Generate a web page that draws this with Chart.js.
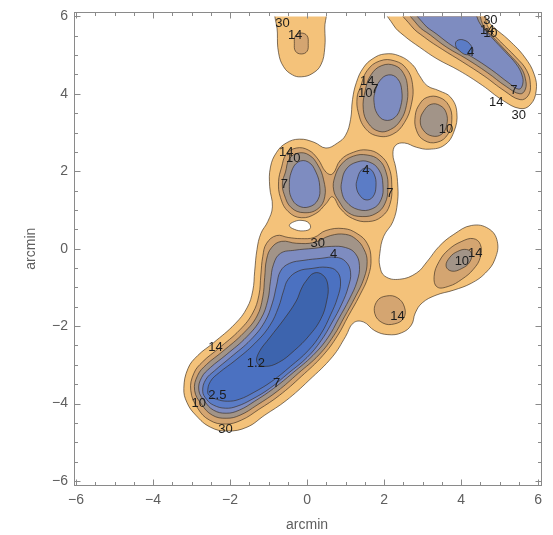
<!DOCTYPE html>
<html>
<head>
<meta charset="utf-8">
<title>contour arcmin</title>
<script src="https://cdn.jsdelivr.net/npm/chart.js@4.4.1/dist/chart.umd.min.js"></script>
<style>
  html, body { margin: 0; padding: 0; background: #fff; }
</style>
</head>
<body>
<canvas id="contourChart" width="553" height="535"></canvas>
<script>
const getEl = (id) => document.getElementById(id);

// axis ticks (arcmin)
const tickValues = [-6, -4, -2, 0, 2, 4, 6];
const minorStep = 0.5;
const levels = [30, 14, 10, 7, 4, 2.5, 1.2];

// contour outlines, [x, y] in arcmin
// small blob at the top
const cap30 = [[-0.76,6.3],[-0.77,5.57],[-0.74,5.06],[-0.61,4.70],[-0.38,4.49],[-0.15,4.44],[0.13,4.52],[0.36,4.75],[0.46,5.19],[0.46,5.70],[0.44,6.3]];
const cap14 = [[-0.15,5.57],[0.0,5.5],[0.03,5.3],[0.0,5.1],[-0.15,5.03],[-0.3,5.1],[-0.33,5.3],[-0.3,5.5]];

// ridge at the top right
const ridge30 = [[2.02,6.3],[2.24,5.78],[2.52,5.50],[2.93,5.20],[3.38,4.90],[3.95,4.60],[4.55,4.22],[5.07,3.84],[5.53,3.62],[5.80,3.72],[5.95,4.08],[5.90,4.50],[5.65,4.95],[5.24,5.39],[4.85,5.72],[4.65,5.95],[4.55,6.3]];
const ridge14 = [[2.38,6.3],[2.70,5.76],[3.05,5.46],[3.51,5.15],[4.03,4.83],[4.60,4.46],[5.12,4.08],[5.53,3.85],[5.74,3.95],[5.80,4.24],[5.70,4.61],[5.42,4.95],[5.03,5.34],[4.73,5.67],[4.41,6.3]];
const ridge10 = [[2.58,6.3],[2.87,5.78],[3.20,5.52],[3.63,5.20],[4.13,4.91],[4.68,4.55],[5.17,4.19],[5.53,4.00],[5.67,4.12],[5.67,4.39],[5.55,4.68],[5.24,5.03],[4.90,5.39],[4.60,5.72],[4.30,6.3]];
const ridge7 = [[2.74,6.3],[3.03,5.81],[3.37,5.54],[3.80,5.22],[4.27,4.96],[4.79,4.62],[5.24,4.28],[5.50,4.12],[5.60,4.25],[5.58,4.49],[5.43,4.77],[5.14,5.09],[4.80,5.45],[4.50,5.80],[4.20,6.3]];
const ridge4 = [[3.89,5.37],[4.07,5.39],[4.25,5.26],[4.30,5.08],[4.14,5.01],[3.96,5.11],[3.86,5.24]];

// the big connected region (outer 30 line) and the little hole in it
const body30 = [[-3.20,-3.61],[-3.09,-3.09],[-2.84,-2.76],[-2.43,-2.43],[-1.87,-1.94],[-1.56,-1.53],[-1.41,-1.09],[-1.36,-0.58],[-1.30,-0.02],[-1.20,0.39],[-1.02,0.70],[-0.90,1.08],[-0.97,1.60],[-0.95,2.11],[-0.79,2.49],[-0.54,2.73],[-0.20,2.83],[0.18,2.75],[0.49,2.60],[0.79,2.73],[1.00,2.93],[1.13,3.34],[1.18,3.85],[1.28,4.29],[1.46,4.67],[1.71,4.91],[2.02,5.03],[2.40,4.98],[2.74,4.75],[2.92,4.47],[3.12,4.21],[3.43,4.08],[3.73,3.91],[3.89,3.52],[3.81,3.01],[3.56,2.67],[3.17,2.57],[2.84,2.62],[2.53,2.73],[2.30,2.67],[2.23,2.44],[2.30,2.11],[2.35,1.73],[2.35,1.21],[2.23,0.70],[1.99,0.32],[1.89,-0.12],[1.89,-0.45],[2.02,-0.71],[2.40,-0.79],[2.84,-0.63],[3.12,-0.33],[3.43,0.06],[3.81,0.37],[4.27,0.60],[4.71,0.52],[4.94,0.19],[4.88,-0.27],[4.63,-0.63],[4.27,-0.89],[3.81,-1.07],[3.35,-1.20],[2.99,-1.40],[2.81,-1.66],[2.71,-1.97],[2.46,-2.17],[2.10,-2.22],[1.76,-2.12],[1.46,-1.89],[1.20,-1.92],[1.00,-2.27],[0.66,-2.79],[0.05,-3.40],[-0.54,-3.92],[-1.10,-4.30],[-1.56,-4.61],[-2.07,-4.71],[-2.51,-4.61],[-2.89,-4.30],[-3.12,-3.97]];
const hole30 = [[-0.46,0.60],[-0.33,0.70],[-0.13,0.73],[0.05,0.66],[0.08,0.52],[-0.10,0.46],[-0.33,0.50]];

// knot near (2, 4) and the lobe near (3.3, 3.3)
const knot14 = [[1.38,4.16],[1.56,4.60],[1.89,4.85],[2.28,4.85],[2.58,4.65],[2.74,4.24],[2.71,3.73],[2.53,3.26],[2.23,2.96],[1.84,2.91],[1.51,3.11],[1.33,3.52],[1.30,3.91]];
const knot10 = [[1.51,4.08],[1.66,4.49],[1.94,4.73],[2.28,4.73],[2.51,4.52],[2.61,4.16],[2.58,3.70],[2.43,3.32],[2.17,3.08],[1.87,3.03],[1.59,3.24],[1.46,3.60]];
const knot7 = [[1.76,4.03],[1.89,4.34],[2.12,4.49],[2.35,4.39],[2.46,4.08],[2.43,3.67],[2.28,3.39],[2.02,3.32],[1.82,3.49],[1.74,3.78]];
const lobe14 = [[2.92,3.73],[3.12,3.91],[3.43,3.91],[3.68,3.70],[3.76,3.34],[3.66,2.96],[3.38,2.75],[3.04,2.80],[2.84,3.06],[2.81,3.44]];
const lobe10 = [[3.04,3.57],[3.22,3.73],[3.45,3.70],[3.61,3.52],[3.63,3.21],[3.50,2.96],[3.25,2.91],[3.02,3.06],[2.94,3.32]];

// the figure-eight pair around y = 1.8
const pair14 = [[-0.66,2.11],[-0.54,2.44],[-0.28,2.60],[0.03,2.55],[0.28,2.32],[0.49,1.98],[0.66,1.93],[0.87,2.29],[1.20,2.49],[1.56,2.55],[1.89,2.42],[2.12,2.11],[2.20,1.65],[2.15,1.14],[1.94,0.83],[1.59,0.70],[1.18,0.78],[0.87,1.03],[0.66,1.34],[0.49,1.16],[0.23,0.91],[-0.15,0.80],[-0.49,0.96],[-0.69,1.32],[-0.74,1.73]];
const pairL10 = [[-0.56,1.98],[-0.46,2.32],[-0.23,2.47],[0.05,2.42],[0.28,2.16],[0.43,1.78],[0.46,1.34],[0.28,1.03],[-0.08,0.93],[-0.41,1.06],[-0.59,1.39],[-0.64,1.70]];
const pairR10 = [[0.72,1.85],[0.90,2.19],[1.20,2.39],[1.56,2.42],[1.87,2.29],[2.05,1.98],[2.10,1.57],[2.02,1.16],[1.79,0.91],[1.43,0.83],[1.07,0.93],[0.82,1.24],[0.69,1.52]];
const pairL7 = [[-0.46,1.60],[-0.41,1.98],[-0.23,2.24],[0.03,2.24],[0.23,1.98],[0.33,1.60],[0.28,1.26],[0.05,1.08],[-0.23,1.11],[-0.41,1.32]];
const pairR7 = [[0.90,1.73],[1.02,2.06],[1.30,2.24],[1.61,2.24],[1.87,2.03],[1.97,1.65],[1.92,1.26],[1.69,1.03],[1.33,1.01],[1.02,1.21],[0.90,1.47]];
const pairR4 = [[1.30,1.78],[1.41,2.03],[1.59,2.08],[1.74,1.93],[1.79,1.62],[1.71,1.34],[1.53,1.26],[1.36,1.39],[1.28,1.60]];

// long main valley
const body14 = [[-3.02,-3.66],[-2.94,-3.22],[-2.71,-2.92],[-2.30,-2.58],[-1.74,-2.09],[-1.41,-1.66],[-1.25,-1.20],[-1.20,-0.68],[-1.15,-0.20],[-1.05,0.14],[-0.79,0.34],[-0.49,0.29],[-0.15,0.26],[0.18,0.29],[0.49,0.47],[0.95,0.52],[1.30,0.39],[1.56,0.14],[1.66,-0.25],[1.59,-0.71],[1.36,-1.22],[1.07,-1.74],[0.79,-2.25],[0.41,-2.76],[-0.15,-3.30],[-0.72,-3.79],[-1.25,-4.15],[-1.71,-4.43],[-2.12,-4.53],[-2.53,-4.43],[-2.84,-4.12]];
const body10 = [[-2.92,-3.66],[-2.84,-3.27],[-2.61,-2.99],[-2.20,-2.66],[-1.64,-2.17],[-1.30,-1.74],[-1.15,-1.25],[-1.10,-0.74],[-1.05,-0.27],[-0.92,0.03],[-0.66,0.19],[-0.28,0.14],[0.18,0.16],[0.61,0.34],[1.00,0.37],[1.28,0.24],[1.48,-0.02],[1.56,-0.33],[1.48,-0.76],[1.25,-1.25],[0.97,-1.76],[0.69,-2.25],[0.31,-2.74],[-0.23,-3.22],[-0.77,-3.68],[-1.30,-4.04],[-1.74,-4.30],[-2.10,-4.38],[-2.46,-4.30],[-2.74,-4.02]];
const body7 = [[-2.81,-3.66],[-2.74,-3.33],[-2.51,-3.07],[-2.10,-2.74],[-1.56,-2.27],[-1.20,-1.81],[-1.02,-1.33],[-0.95,-0.84],[-0.87,-0.40],[-0.69,-0.12],[-0.33,-0.04],[0.18,0.01],[0.64,0.06],[1.00,0.03],[1.25,-0.12],[1.36,-0.43],[1.30,-0.84],[1.10,-1.30],[0.82,-1.81],[0.54,-2.30],[0.15,-2.76],[-0.36,-3.20],[-0.87,-3.61],[-1.36,-3.94],[-1.76,-4.17],[-2.10,-4.25],[-2.43,-4.17],[-2.66,-3.94]];
const body4 = [[-2.71,-3.68],[-2.63,-3.38],[-2.40,-3.15],[-1.99,-2.81],[-1.46,-2.35],[-1.10,-1.89],[-0.90,-1.40],[-0.79,-0.94],[-0.69,-0.58],[-0.46,-0.38],[-0.08,-0.30],[0.36,-0.25],[0.74,-0.22],[1.00,-0.33],[1.13,-0.61],[1.07,-0.99],[0.90,-1.43],[0.64,-1.92],[0.36,-2.38],[0.00,-2.81],[-0.49,-3.22],[-0.97,-3.61],[-1.43,-3.89],[-1.82,-4.07],[-2.12,-4.12],[-2.43,-4.04],[-2.61,-3.89]];
const body2_5 = [[-2.58,-3.71],[-2.51,-3.43],[-2.28,-3.20],[-1.87,-2.89],[-1.36,-2.45],[-0.97,-1.99],[-0.74,-1.51],[-0.61,-1.09],[-0.49,-0.79],[-0.23,-0.58],[0.13,-0.51],[0.51,-0.48],[0.77,-0.58],[0.87,-0.86],[0.79,-1.27],[0.61,-1.71],[0.36,-2.20],[0.03,-2.63],[-0.43,-3.04],[-0.92,-3.43],[-1.38,-3.71],[-1.76,-3.89],[-2.07,-3.94],[-2.35,-3.89],[-2.51,-3.81]];
const body1_2 = [[-0.03,-0.84],[0.18,-0.63],[0.41,-0.68],[0.54,-0.94],[0.51,-1.35],[0.36,-1.81],[0.05,-2.25],[-0.33,-2.63],[-0.74,-2.94],[-1.10,-3.04],[-1.30,-2.94],[-1.25,-2.68],[-0.97,-2.30],[-0.59,-1.81],[-0.28,-1.35],[-0.15,-1.04]];

// small bump near (2.2, -1.6) and the blob near (4, -0.3)
const bump14 = [[1.82,-1.35],[2.07,-1.22],[2.35,-1.27],[2.53,-1.51],[2.51,-1.79],[2.28,-1.94],[1.97,-1.92],[1.76,-1.68]];
const east14 = [[3.30,-0.71],[3.43,-0.33],[3.68,-0.02],[4.02,0.19],[4.32,0.26],[4.50,0.11],[4.50,-0.22],[4.32,-0.53],[4.02,-0.79],[3.68,-0.97],[3.38,-0.99]];
const east10 = [[3.61,-0.45],[3.71,-0.22],[3.91,-0.07],[4.14,-0.02],[4.27,-0.12],[4.22,-0.35],[4.02,-0.51],[3.76,-0.58]];

// contour labels: text, x, y
const contourLabels = [
    ['30', -0.64, 5.83], ['14', -0.31, 5.52],
    ['30', 4.76, 5.90], ['14', 4.68, 5.63], ['10', 4.76, 5.56], ['4', 4.25, 5.06], ['7', 5.37, 4.10], ['14', 4.91, 3.78], ['30', 5.50, 3.44],
    ['14', 1.56, 4.31], ['10', 1.51, 4.01], ['7', 1.76, 4.11], ['10', 3.61, 3.09],
    ['14', -0.54, 2.49], ['10', -0.36, 2.34], ['7', -0.59, 1.65], ['4', 1.53, 2.03], ['7', 2.15, 1.42],
    ['30', 0.28, 0.14], ['4', 0.69, -0.15], ['14', -2.38, -2.55], ['1.2', -1.33, -2.96], ['7', -0.79, -3.48],
    ['2.5', -2.33, -3.79], ['10', -2.81, -3.99], ['30', -2.12, -4.66],
    ['10', 4.02, -0.33], ['14', 4.37, -0.12], ['14', 2.35, -1.74]
];

const outlines = [
    [30, cap30], [30, ridge30], [30, body30], ['hole', hole30],
    [14, cap14], [14, ridge14], [14, knot14], [14, lobe14], [14, pair14], [14, body14], [14, bump14], [14, east14],
    [10, ridge10], [10, knot10], [10, lobe10], [10, pairL10], [10, pairR10], [10, body10], [10, east10],
    [7, ridge7], [7, knot7], [7, pairL7], [7, pairR7], [7, body7],
    [4, ridge4], [4, pairR4], [4, body4],
    [2.5, body2_5], [1.2, body1_2]
];

const bandColor = { 'hole': '#ffffff', 30: '#F4C27A', 14: '#D4A571', 10: '#A29488', 7: '#7E8CC0', 4: '#5B7CC6', 2.5: '#4B71C1', 1.2: '#3D64AE' };
const lineColor = 'rgba(55,42,30,0.75)';
const fontFamily = '"Liberation Sans", Arial, sans-serif';

// draw order: outer levels underneath, the hole right above the 30 band
const drawOrder = (level) => level === 'hole' ? levels.length : (level === 30 ? levels.length + 1 : levels.length - levels.indexOf(level));

// closes a ring so the spline is smooth all the way round; the first and last
// helper segments are left unstroked
const makeRing = (level, pts) => {
    const n = pts.length;
    const ring = pts.concat(pts.slice(0, 3)).map(([x, y]) => ({ x, y }));
    return {
        data: ring,
        order: drawOrder(level),
        fill: 'shape',
        backgroundColor: bandColor[level],
        borderColor: lineColor,
        borderWidth: 0.85,
        tension: 0.42,
        pointRadius: 0,
        segment: {
            borderColor: (c) => (c.p0DataIndex === 0 || c.p0DataIndex === n + 1) ? 'rgba(0,0,0,0)' : undefined
        }
    };
};

const fmtTick = (v) => v < 0 ? '\u2212' + (-v) : String(v);

const frameAndLabels = {
    id: 'frameAndLabels',
    afterDatasetsDraw(chart) {
        const { ctx, chartArea: a, scales: { x, y } } = chart;
        const L = Math.round(a.left - 2.5) + 0.5, R = Math.round(a.right + 3) + 0.5;
        const T = Math.round(a.top - 4) + 0.5, B = Math.round(a.bottom + 4) + 0.5;
        ctx.save();

        ctx.font = '13px ' + fontFamily;
        ctx.fillStyle = '#1c1c1c';
        ctx.textAlign = 'center';
        ctx.textBaseline = 'middle';
        contourLabels.forEach(([t, lx, ly]) => ctx.fillText(t, x.getPixelForValue(lx), y.getPixelForValue(ly)));

        ctx.strokeStyle = '#8a8a8a';
        ctx.lineWidth = 1;
        ctx.strokeRect(L, T, R - L, B - T);
        ctx.beginPath();
        const steps = Math.round(12 / minorStep);
        for (let i = 0; i <= steps; i++) {
            const v = -6 + i * minorStep;
            const len = tickValues.includes(v) ? 6 : 3.5;
            const px = Math.round(x.getPixelForValue(v)) + 0.5;
            const py = Math.round(y.getPixelForValue(v)) + 0.5;
            ctx.moveTo(px, B); ctx.lineTo(px, B - len);
            ctx.moveTo(px, T); ctx.lineTo(px, T + len);
            ctx.moveTo(L, py); ctx.lineTo(L + len, py);
            ctx.moveTo(R, py); ctx.lineTo(R - len, py);
        }
        ctx.stroke();
        ctx.restore();
    }
};

const axisBase = (fit, tickPad, titlePad) => ({
    type: 'linear',
    min: -6,
    max: 6,
    grid: { display: false, drawTicks: false },
    border: { display: false },
    afterBuildTicks: (s) => { s.ticks = tickValues.map(v => ({ value: v })); },
    afterFit: fit,
    ticks: { padding: tickPad, color: '#5e5e5e', font: { family: fontFamily, size: 14 }, callback: fmtTick, maxRotation: 0, autoSkip: false },
    title: { display: true, text: 'arcmin', color: '#5e5e5e', font: { family: fontFamily, size: 14 }, padding: titlePad }
});

window.onload = () => {
    new Chart(getEl('contourChart'), {
        type: 'line',
        data: { datasets: outlines.map(([lvl, pts]) => makeRing(lvl, pts)) },
        options: {
            responsive: false,
            animation: false,
            events: [],
            layout: { padding: { top: 13, right: 7, left: 0, bottom: 0 } },
            plugins: { legend: { display: false }, tooltip: { enabled: false } },
            scales: {
                x: axisBase((s) => { s.height = 54; }, 11, { top: 0, bottom: 1 }),
                y: axisBase((s) => { s.width = 76; }, 8, { top: 23, bottom: 0 })
            }
        },
        plugins: [frameAndLabels]
    });
};
</script>
</body>
</html>
